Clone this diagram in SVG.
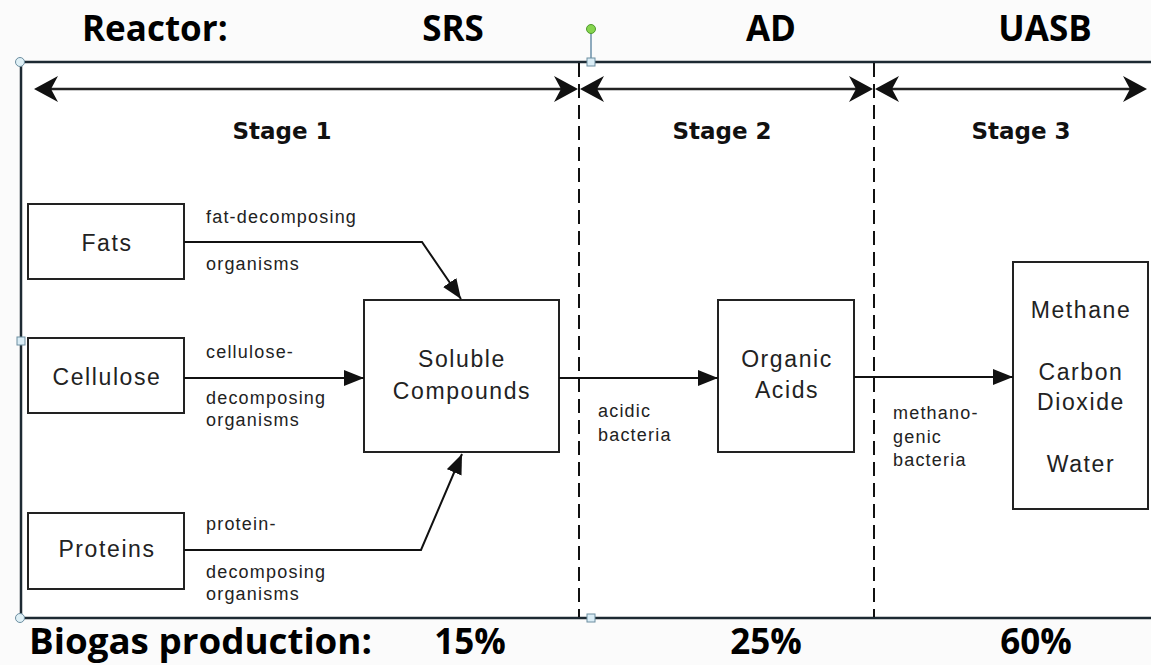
<svg xmlns="http://www.w3.org/2000/svg" width="1151" height="665" viewBox="0 0 1151 665">
<style>
.hdr{font-family:"Open Sans","Liberation Sans",sans-serif;font-weight:700;font-size:35px;fill:#000}
.stage{font-family:"DejaVu Sans",sans-serif;font-weight:700;font-size:23px;fill:#111;text-anchor:middle}
.box{fill:#fff;stroke:#222;stroke-width:2}
.bt{font-family:"Liberation Sans",Arial,sans-serif;font-size:23px;fill:#222;letter-spacing:1.6px;text-anchor:middle}
.lbl{font-family:"Liberation Sans",Arial,sans-serif;font-size:18px;fill:#222;letter-spacing:1.2px}
.conn{fill:none;stroke:#111;stroke-width:2}
.dash{stroke:#111;stroke-width:2;stroke-dasharray:14 7}
.frame{stroke:#1d2a33;stroke-width:2.5}
.dbl{stroke:#222;stroke-width:2.5}
.head{fill:#111}
</style>
<defs>
<marker id="ah" markerWidth="20" markerHeight="16" refX="20" refY="8" orient="auto" markerUnits="userSpaceOnUse">
<path d="M0,0 L20,8 L0,16 Z" fill="#111"/>
</marker>
<path id="bh" d="M0,0 L24,-13 L17,0 L24,13 Z"/>
</defs>
<rect x="0" y="0" width="1151" height="665" fill="#fbfbfb"/>
<rect x="21" y="62" width="1130" height="556" fill="#fff"/>
<g id="header">
<text class="hdr" x="82" y="41">Reactor:</text>
<text class="hdr" x="453" y="41" text-anchor="middle">SRS</text>
<text class="hdr" x="771" y="41" text-anchor="middle">AD</text>
<text class="hdr" x="1045" y="41" text-anchor="middle">UASB</text>
<text class="hdr" x="29" y="654" textLength="343" lengthAdjust="spacingAndGlyphs">Biogas production:</text>
<text class="hdr" x="470" y="654" text-anchor="middle">15%</text>
<text class="hdr" x="766" y="654" text-anchor="middle">25%</text>
<text class="hdr" x="1036" y="654" text-anchor="middle">60%</text>
</g>
<g id="frame">
<line class="frame" x1="19" y1="62" x2="1151" y2="62"/>
<line class="frame" x1="19" y1="618" x2="1151" y2="618"/>
<line class="frame" x1="21" y1="62" x2="21" y2="618"/>
<line class="dash" x1="579" y1="63" x2="579" y2="617"/>
<line class="dash" x1="874" y1="63" x2="874" y2="617"/>
</g>
<g id="stages">
<line class="dbl" x1="40" y1="89" x2="572" y2="89"/>
<use href="#bh" class="head" transform="translate(34,89)"/>
<use href="#bh" class="head" transform="translate(578,89) rotate(180)"/>
<line class="dbl" x1="586" y1="89" x2="868" y2="89"/>
<use href="#bh" class="head" transform="translate(580,89)"/>
<use href="#bh" class="head" transform="translate(873,89) rotate(180)"/>
<line class="dbl" x1="881" y1="89" x2="1140" y2="89"/>
<use href="#bh" class="head" transform="translate(875,89)"/>
<use href="#bh" class="head" transform="translate(1147,89) rotate(180)"/>
<text class="stage" x="282" y="139">Stage 1</text>
<text class="stage" x="722" y="139">Stage 2</text>
<text class="stage" x="1021" y="139">Stage 3</text>
</g>
<g id="fats"><rect class="box" x="28" y="204" width="156" height="75"/><text class="bt" x="107" y="251">Fats</text></g>
<g id="cellulose"><rect class="box" x="28" y="338" width="156" height="75"/><text class="bt" x="107" y="385">Cellulose</text></g>
<g id="proteins"><rect class="box" x="28" y="513" width="156" height="76"/><text class="bt" x="107" y="557">Proteins</text></g>
<g id="soluble"><rect class="box" x="364" y="300" width="195" height="152"/><text class="bt" x="462" y="367">Soluble</text><text class="bt" x="462" y="399">Compounds</text></g>
<g id="organic"><rect class="box" x="718" y="300" width="136" height="152"/><text class="bt" x="787" y="367">Organic</text><text class="bt" x="787" y="398">Acids</text></g>
<g id="products"><rect class="box" x="1013" y="262" width="135" height="247"/><text class="bt" x="1081" y="318">Methane</text><text class="bt" x="1081" y="380">Carbon</text><text class="bt" x="1081" y="410">Dioxide</text><text class="bt" x="1081" y="472">Water</text></g>
<g id="connectors">
<polyline class="conn" points="184,242 422,242 461,299" marker-end="url(#ah)"/>
<line class="conn" x1="184" y1="378" x2="364" y2="378" marker-end="url(#ah)"/>
<polyline class="conn" points="184,550 421,550 462,454" marker-end="url(#ah)"/>
<line class="conn" x1="559" y1="378" x2="718" y2="378" marker-end="url(#ah)"/>
<line class="conn" x1="854" y1="377" x2="1013" y2="377" marker-end="url(#ah)"/>
<text class="lbl" x="206" y="223">fat-decomposing</text>
<text class="lbl" x="206" y="270">organisms</text>
<text class="lbl" x="206" y="358">cellulose-</text>
<text class="lbl" x="206" y="404">decomposing</text>
<text class="lbl" x="206" y="426">organisms</text>
<text class="lbl" x="206" y="530">protein-</text>
<text class="lbl" x="206" y="578">decomposing</text>
<text class="lbl" x="206" y="600">organisms</text>
<text class="lbl" x="598" y="417">acidic</text>
<text class="lbl" x="598" y="441">bacteria</text>
<text class="lbl" x="893" y="419">methano-</text>
<text class="lbl" x="893" y="443">genic</text>
<text class="lbl" x="893" y="466">bacteria</text>
</g>
<g id="handles">
<line x1="591" y1="33" x2="591" y2="59" stroke="#6a8fa8" stroke-width="1.5"/>
<circle cx="591" cy="29" r="4.5" fill="#86d54e" stroke="#4f9a2f" stroke-width="1"/>
<rect x="587" y="58" width="8" height="8" fill="#d9ecf5" stroke="#6c8ea0" stroke-width="1"/>
<rect x="587" y="614" width="8" height="8" fill="#d9ecf5" stroke="#6c8ea0" stroke-width="1"/>
<rect x="17" y="337" width="8" height="8" fill="#d9ecf5" stroke="#6c8ea0" stroke-width="1"/>
<circle cx="20" cy="62" r="4.5" fill="#dff0f6" stroke="#6c8ea0" stroke-width="1"/>
<circle cx="20" cy="618" r="4.5" fill="#dff0f6" stroke="#6c8ea0" stroke-width="1"/>
</g>
</svg>
